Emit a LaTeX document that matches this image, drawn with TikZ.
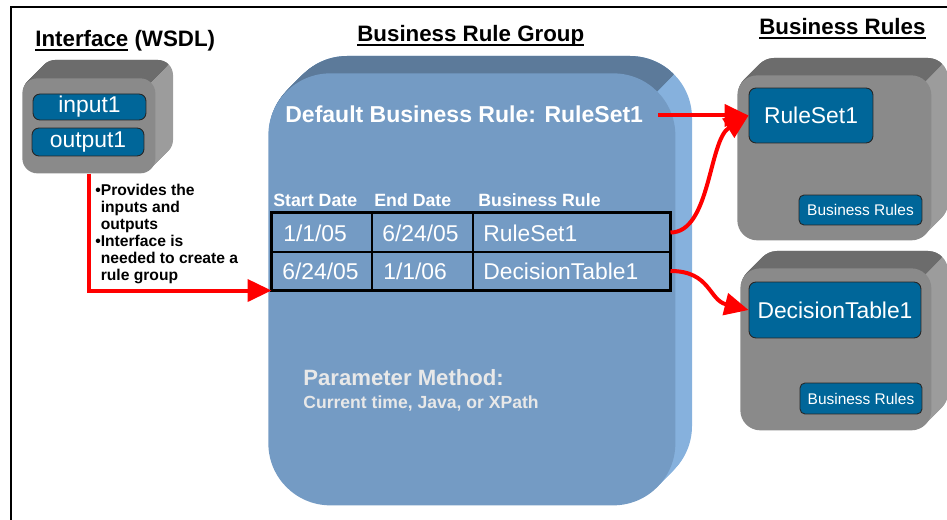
\documentclass[tikz,border=0pt]{standalone}
\usepackage{fontspec}
\setmainfont{Liberation Sans}
\usetikzlibrary{arrows.meta,positioning,calc}
\definecolor{RuleBlue}{RGB}{0,102,153}
\definecolor{GrpFront}{RGB}{116,155,196}
\definecolor{GrpTop}{RGB}{92,122,154}
\definecolor{GrpSide}{RGB}{134,177,221}
\definecolor{BoxFront}{RGB}{138,138,138}
\definecolor{BoxTop}{RGB}{108,108,108}
\definecolor{BoxSide}{RGB}{156,156,156}
\definecolor{Pale}{RGB}{232,232,232}

% extruded box: name, x1, y1, x2, y2, radius, depth, colour prefix
\newcommand{\slab}[8]{%
  \pgfmathsetlengthmacro\slabr{#6*0.02cm}
  \pgfmathsetlengthmacro\slabw{(#4-#2)*0.02cm}
  \pgfmathsetlengthmacro\slabh{(#5-#3)*0.02cm}
  \pgfmathsetmacro\slabc{#4+#3}
  \foreach \k in {#7,...,1}
    \fill[#8Side,rounded corners=\slabr,shift={(\k,-\k)}] (#2,#3) rectangle (#4,#5);
  \begin{scope}
    \clip (#2-100,#3-100) -- (\slabc-#3+100,#3-100) -- (#2-100,\slabc-#2+100) -- cycle;
    \foreach \k in {#7,...,1}
      \fill[#8Top,rounded corners=\slabr,shift={(\k,-\k)}] (#2,#3) rectangle (#4,#5);
  \end{scope}
  \node[fill=#8Front,rounded corners=\slabr,inner sep=0pt,minimum width=\slabw,
    minimum height=\slabh,anchor=north west] (#1) at (#2,#3) {};
}
\newcommand{\undl}[1]{\setbox0\hbox{#1}\rlap{\rule[-2.3pt]{\wd0}{1.1pt}}\box0\relax}

\begin{document}
\begin{tikzpicture}[x=0.02cm,y=-0.02cm,
    txt/.style={anchor=base west,inner sep=0pt},
    title/.style={txt,font=\fontsize{12.7}{15}\selectfont\bfseries},
    bluebox/.style={fill=RuleBlue,draw=black!85,line width=0.5pt,rounded corners=0.14cm,
      inner sep=0pt,text=white,font=\fontsize{13}{15}\selectfont},
    smallbox/.style={bluebox,rounded corners=0.1cm,font=\fontsize{8.8}{10}\selectfont},
    cell/.style={txt,text=white,font=\fontsize{13}{15}\selectfont},
    head/.style={txt,text=white,font=\fontsize{10.1}{12}\selectfont\bfseries},
    rowbox/.style={draw=black,line width=0.6pt,inner sep=0pt,minimum width=7.96cm},
    redline/.style={draw=red,line width=0.08cm,-{Triangle[length=0.48cm,width=0.44cm]}}]
  \useasboundingbox (0,0) rectangle (947,520);
  \draw[line width=1.3pt] (11,520) -- (11,7) -- (947,7);

  % titles
  \node[title] (ttliface) at (35,47) {\undl{Interface} (WSDL)};
  \node[title] (ttlgroup) at (357,42) {\undl{Business Rule Group}};
  \node[title] (ttlrules) at (759,35) {\undl{Business Rules}};

  % boxes
  \slab{iface}{22}{78}{155}{173}{15}{18}{Box}
  \slab{grp}{268}{73}{675}{505}{62}{17}{Grp}
  \slab{rsbox}{737}{75}{931}{240}{20}{17}{Box}
  \slab{dtbox}{740}{268}{931}{430}{20}{17}{Box}

  \node[bluebox,minimum width=2.26cm,minimum height=0.52cm] (in1) at (89.5,107) {input1};
  \node[bluebox,minimum width=2.24cm,minimum height=0.56cm] (out1) at (88,142) {output1};
  \node[bluebox,minimum width=2.48cm,minimum height=1.1cm] (rs) at (811,115.5) {RuleSet1};
  \node[smallbox,minimum width=2.46cm,minimum height=0.6cm] (br1) at (860.5,210) {Business Rules};
  \node[bluebox,minimum width=3.44cm,minimum height=1.12cm] (dt) at (835,310) {DecisionTable1};
  \node[smallbox,minimum width=2.44cm,minimum height=0.62cm] (br2) at (861,398.5) {Business Rules};

  % group contents
  \node[txt,text=white,font=\fontsize{13.1}{15}\selectfont\bfseries] (defrule) at (285,123)
    {Default Business Rule: RuleSet1};
  \node[head] (hstart) at (273,207) {Start Date};
  \node[head] (hend) at (374,207) {End Date};
  \node[head] (hrule) at (478,207) {Business Rule};
  \node[rowbox,minimum height=0.78cm] (row1) at (471,232.5) {};
  \node[rowbox,minimum height=0.76cm] (row2) at (471,271) {};
  \draw[line width=0.6pt] (372,213) -- (372,290) (473,213) -- (473,290);
  \draw[line width=1.5pt] (row1.north west) rectangle (row2.south east);
  \node[cell] (c11) at (283,242) {1/1/05};
  \node[cell] (c12) at (382,242) {6/24/05};
  \node[cell] (c13) at (483,242) {RuleSet1};
  \node[cell] (c21) at (282,280) {6/24/05};
  \node[cell] (c22) at (383,280) {1/1/06};
  \node[cell] (c23) at (483,280) {DecisionTable1};
  \node[txt,text=Pale,font=\fontsize{12.6}{15}\selectfont\bfseries] (pmeth) at (303,385)
    {Parameter Method:};
  \node[txt,text=Pale,font=\fontsize{10}{12}\selectfont\bfseries] (pways) at (303,408)
    {Current time, Java, or XPath};

  % note under the interface
  \node[anchor=north west,inner sep=0pt,align=left,font=\fontsize{8.9}{9.6}\selectfont\bfseries]
    (note) at (95,184) {\textbullet Provides the\\
      \hphantom{\textbullet}inputs and\\
      \hphantom{\textbullet}outputs\\
      \textbullet Interface is\\
      \hphantom{\textbullet}needed to create a\\
      \hphantom{\textbullet}rule group};

  % arrows
  \draw[redline] (iface.south) |- (row2.south west);
  \draw[redline,shorten <=0.3cm] (defrule.east |- rs.west) -- (rs.west);
  \draw[redline] (row1.east) .. controls +(40,0) and +(-40,25) .. (rs.west);
  \draw[redline] (row2.east) .. controls +(40,0) and +(-40,-10) .. (dt.west);
\end{tikzpicture}
\end{document}
